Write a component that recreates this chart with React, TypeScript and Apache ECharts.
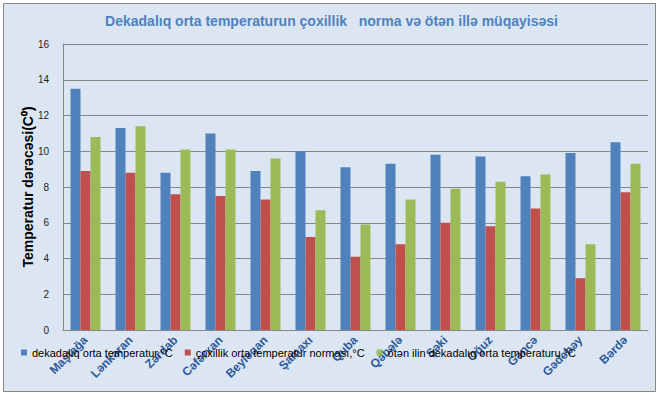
import React, { useEffect, useRef } from "react";
import * as echarts from "echarts";

const categories = ["Maştağa", "Lənkəran", "Zərdab", "Cəfərxan", "Beyləqan", "Şamaxı", "Quba", "Qəbələ", "Şəki", "Oğuz", "Gəncə", "Gədəbəy", "Bərdə"];
const seriesNames = ["dekadalıq orta temperatur,°C", "çoxillik orta temperatur norması,°C", "ötən ilin dekadalıq orta temperaturu,°C"];
const current = [13.5, 11.3, 8.8, 11.0, 8.9, 10.0, 9.1, 9.3, 9.8, 9.7, 8.6, 9.9, 10.5];
const norm = [8.9, 8.8, 7.6, 7.5, 7.3, 5.2, 4.1, 4.8, 6.0, 5.8, 6.8, 2.9, 7.7];
const lastYear = [10.8, 11.4, 10.1, 10.1, 9.6, 6.7, 5.9, 7.3, 7.9, 8.3, 8.7, 4.8, 9.3];
const colors = ["#4f81bd", "#c0504d", "#9bbb59"];

export default function App() {
  const ref = useRef<HTMLDivElement>(null);
  useEffect(() => {
    document.body.style.margin = "0";
    const chart = echarts.init(ref.current!, null, { renderer: "svg" });
    const font = "Arial, 'Liberation Sans', sans-serif";
    chart.setOption({
      animation: false,
      graphic: [
        {
          type: "rect",
          z: -10,
          silent: true,
          shape: { x: 3.5, y: 3.5, width: 652, height: 388 },
          style: { fill: "#dce6f2", stroke: "#878787", lineWidth: 1 },
        },
      ],
      title: {
        text: "Dekadalıq orta temperaturun çoxillik   norma və ötən illə müqayisəsi",
        left: "center",
        top: 9,
        textStyle: { fontFamily: font, fontSize: 14, fontWeight: "bold", color: "#4f81bd" },
      },
      legend: {
        left: 16,
        top: 342,
        itemWidth: 6,
        itemHeight: 6,
        itemGap: 12,
        icon: "rect",
        textStyle: { fontFamily: font, fontSize: 11, color: "#000" },
        data: seriesNames,
      },
      grid: { left: 63, right: 15, top: 44, bottom: 68 },
      xAxis: {
        type: "category",
        data: categories,
        axisLine: { lineStyle: { color: "#868686" } },
        axisTick: { show: false },
        axisLabel: {
          rotate: 45,
          margin: 8,
          interval: 0,
          fontFamily: font,
          fontSize: 12,
          fontWeight: "bold",
          color: "#2c5a9c",
        },
      },
      yAxis: {
        type: "value",
        min: 0,
        max: 16,
        interval: 2,
        name: "Temperatur dərəcəsi(C⁰)",
        nameLocation: "middle",
        nameGap: 28,
        nameMoveOverlap: false,
        nameTextStyle: { fontFamily: font, fontSize: 14, fontWeight: "bold", color: "#000" },
        axisLine: { show: true, lineStyle: { color: "#868686" } },
        axisTick: { show: false },
        splitLine: { lineStyle: { color: "#868686", width: 1 } },
        axisLabel: { fontFamily: font, fontSize: 10, color: "#222", margin: 14 },
      },
      series: [current, norm, lastYear].map((d, i) => ({
        name: seriesNames[i],
        type: "bar",
        data: d,
        barWidth: 10,
        barGap: "0%",
        barCategoryGap: "33%",
        itemStyle: { color: colors[i] },
      })),
    });
    return () => chart.dispose();
  }, []);
  return <div ref={ref} style={{ width: 663, height: 398 }} />;
}
